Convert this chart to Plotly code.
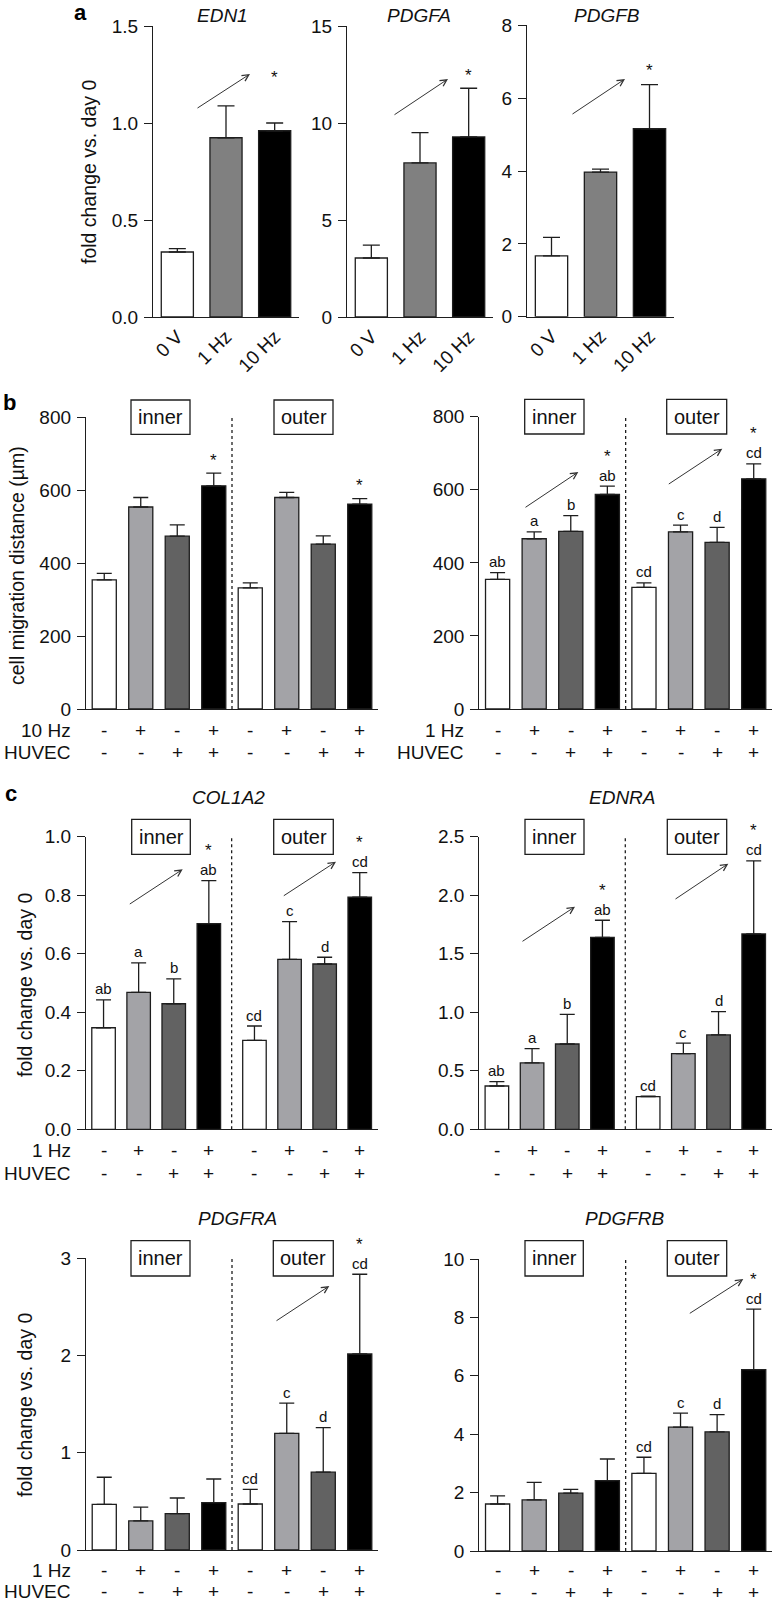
import plotly.graph_objects as go

W, H = 775, 1604
FONT = "Arial, Liberation Sans, sans-serif"
TXT = "#111111"
LINE = "#1e1e1e"

# ---------------- data ----------------
a_groups = ["0 V", "1 Hz", "10 Hz"]
a_colors = ["#ffffff", "#808080", "#000000"]
edn1_mean = [0.335, 0.924, 0.96]
edn1_sem = [0.017, 0.164, 0.04]
pdgfa_mean = [3.04, 7.94, 9.28]
pdgfa_sem = [0.66, 1.56, 2.51]
pdgfb_mean = [1.67, 3.97, 5.16]
pdgfb_sem = [0.51, 0.08, 1.21]

bc_colors = ["#ffffff", "#a3a3a7", "#626262", "#000000"] * 2
stim_row = ["-", "+", "-", "+", "-", "+", "-", "+"]
huvec_row = ["-", "-", "+", "+", "-", "-", "+", "+"]

mig10_mean = [354, 554, 474, 612, 332, 580, 452, 562]
mig10_sem = [18, 26, 31, 35, 14, 14, 23, 15]
mig1_mean = [355, 466, 486, 587, 333, 485, 456, 630]
mig1_sem = [18, 19, 43, 23, 12, 18, 41, 41]

col1a2_mean = [0.347, 0.468, 0.429, 0.703, 0.304, 0.581, 0.565, 0.793]
col1a2_sem = [0.095, 0.101, 0.085, 0.147, 0.049, 0.129, 0.023, 0.084]
ednra_mean = [0.37, 0.567, 0.729, 1.64, 0.279, 0.646, 0.806, 1.669]
ednra_sem = [0.037, 0.122, 0.253, 0.146, 0.004, 0.091, 0.199, 0.624]
pdgfra_mean = [0.47, 0.30, 0.374, 0.487, 0.473, 1.20, 0.80, 2.016]
pdgfra_sem = [0.278, 0.14, 0.161, 0.243, 0.151, 0.31, 0.458, 0.82]
pdgfrb_mean = [1.61, 1.75, 1.98, 2.41, 2.66, 4.24, 4.08, 6.21]
pdgfrb_sem = [0.28, 0.60, 0.13, 0.74, 0.55, 0.48, 0.59, 2.07]

letters_full = ["ab", "a", "b", "ab", "cd", "c", "d", "cd"]
letters_outer = ["", "", "", "", "cd", "c", "d", "cd"]
letters_none = [""] * 8


def fx(px):
    return px / W


def fy(py):
    return 1 - py / H


fig = go.Figure()
annotations = []
shapes = []


def add_axes(idx, xdom, ydom, xrange, yrange, ytickvals, yfmt, xtickvals=None, xticktext=None):
    xa = dict(domain=[fx(xdom[0]), fx(xdom[1])], range=xrange, anchor="y%d" % idx,
              showline=True, linecolor=LINE, linewidth=1.3, ticks="", showgrid=False,
              zeroline=False, automargin=False, fixedrange=True)
    if xtickvals is None:
        xa["showticklabels"] = False
    else:
        xa.update(tickvals=xtickvals, ticktext=xticktext, tickangle=-45,
                  tickfont=dict(family=FONT, size=19, color=TXT))
    ya = dict(domain=[fy(ydom[1]), fy(ydom[0])], range=yrange, anchor="x%d" % idx,
              showline=True, linecolor=LINE, linewidth=1.3, ticks="outside", ticklen=8,
              tickwidth=1.3, tickcolor=LINE, tickvals=ytickvals, tickformat=yfmt,
              ticklabelstandoff=2,
              tickfont=dict(family=FONT, size=19, color=TXT), showgrid=False,
              zeroline=False, automargin=False, fixedrange=True)
    fig.layout["xaxis%d" % idx if idx > 1 else "xaxis"] = xa
    fig.layout["yaxis%d" % idx if idx > 1 else "yaxis"] = ya


def add_bars(idx, pos, mean, sem, colors, bw, capw):
    xr = "x%d" % idx if idx > 1 else "x"
    yr = "y%d" % idx if idx > 1 else "y"
    fig.add_trace(go.Bar(
        x=pos, y=mean, width=bw, xaxis=xr, yaxis=yr,
        marker=dict(color=colors, line=dict(color=LINE, width=1.3)),
        error_y=dict(type="data", symmetric=False, array=sem, arrayminus=[0] * len(sem),
                     color=LINE, thickness=1.3, width=capw),
        showlegend=False, hoverinfo="skip"))
    return xr, yr


def add_letters(xr, yr, pos, mean, sem, letters, stars):
    for i, p in enumerate(pos):
        top = mean[i] + sem[i]
        if letters[i]:
            annotations.append(dict(x=p, y=top, xref=xr, yref=yr, text=letters[i],
                                    showarrow=False, xanchor="center", yanchor="middle", yshift=11,
                                    font=dict(family=FONT, size=15, color=TXT)))
        if i in stars:
            ys = 30 if letters[i] else 13
            annotations.append(dict(x=p, y=top, xref=xr, yref=yr, text="*",
                                    showarrow=False, xanchor="center", yanchor="middle", yshift=ys,
                                    font=dict(family=FONT, size=17, color=TXT)))


def add_rows(xr, pos, y1, y2, lab1=None, lab2=None, labx=None):
    for i, p in enumerate(pos):
        for row, yy in ((stim_row, y1), (huvec_row, y2)):
            annotations.append(dict(x=p, y=fy(yy), xref=xr, yref="paper", text=row[i],
                                    showarrow=False, xanchor="center", yanchor="middle",
                                    font=dict(family=FONT, size=19, color=TXT)))
    if lab1:
        for lab, yy in ((lab1, y1), (lab2, y2)):
            annotations.append(dict(x=fx(labx), y=fy(yy), xref="paper", yref="paper", text=lab,
                                    showarrow=False, xanchor="right", yanchor="middle",
                                    font=dict(family=FONT, size=19, color=TXT)))


def add_box(x0, x1, y0, y1, label):
    shapes.append(dict(type="rect", xref="paper", yref="paper", x0=fx(x0), x1=fx(x1),
                       y0=fy(y1), y1=fy(y0), line=dict(color=LINE, width=1.3),
                       fillcolor="rgba(0,0,0,0)", layer="above"))
    annotations.append(dict(x=fx((x0 + x1) / 2), y=fy((y0 + y1) / 2), xref="paper", yref="paper",
                            text=label, showarrow=False, xanchor="center", yanchor="middle",
                            font=dict(family=FONT, size=20, color=TXT)))


def add_arrow(tail, head):
    annotations.append(dict(x=fx(head[0]), y=fy(head[1]), xref="paper", yref="paper", text="",
                            showarrow=True, arrowhead=5, arrowsize=1.3, arrowwidth=1,
                            arrowcolor="#333333", ax=tail[0] - head[0], ay=tail[1] - head[1]))


def add_title(x, y, text):
    annotations.append(dict(x=fx(x), y=fy(y), xref="paper", yref="paper", text=text,
                            showarrow=False, xanchor="center", yanchor="middle",
                            font=dict(family=FONT, size=19, color=TXT, style="italic")))


def add_ytitle(x, y, text):
    annotations.append(dict(x=fx(x), y=fy(y), xref="paper", yref="paper", text=text,
                            showarrow=False, textangle=-90, xanchor="center", yanchor="middle",
                            font=dict(family=FONT, size=19.5, color=TXT)))


def add_dash(xr, yr, xpos, ytop):
    shapes.append(dict(type="line", xref=xr, yref=yr, x0=xpos, x1=xpos, y0=0, y1=ytop,
                       line=dict(color=LINE, width=1.3, dash="3px,3px")))


# ---------------- panel a ----------------
apos = [0, 1, 2]
a_panels = [
    (1, (153, 299), (26, 317), edn1_mean, edn1_sem, [0, 1.5], [0, 0.5, 1.0, 1.5], ".1f", "EDN1", 222, 1.235,
     (196, 109), (250, 74)),
    (2, (347, 493), (26, 317), pdgfa_mean, pdgfa_sem, [0, 15], [0, 5, 10, 15], "d", "PDGFA", 419, 12.45,
     (393, 115.7), (448, 79)),
    (3, (527, 674), (25.3, 316.7), pdgfb_mean, pdgfb_sem, [0, 8], [0, 2, 4, 6, 8], "d", "PDGFB", 607, 6.75,
     (571, 115), (625, 79)),
]
for (idx, xd, yd, m, s, yrng, tv, fmt, title, tx, stary, tail, head) in a_panels:
    add_axes(idx, xd, yd, [-0.5, 2.5], yrng, tv, fmt, xtickvals=apos, xticktext=a_groups)
    xr, yr = add_bars(idx, apos, m, s, a_colors, 0.66, 8.5)
    add_title(tx, 15, title)
    annotations.append(dict(x=2, y=stary, xref=xr, yref=yr, text="*", showarrow=False,
                            xanchor="center", yanchor="middle",
                            font=dict(family=FONT, size=17, color=TXT)))
    add_arrow(tail, head)
add_ytitle(89, 172, "fold change vs. day 0")

# ---------------- panel b ----------------
upos = [0, 1, 2, 3, 4, 5, 6, 7]
gpos = [0, 1, 2, 3, 4.3, 5.3, 6.3, 7.3]

# b left (10 Hz)
add_axes(4, (86, 378), (417.3, 709), [-0.5, 7.5], [0, 800], [0, 200, 400, 600, 800], "d")
xr, yr = add_bars(4, upos, mig10_mean, mig10_sem, bc_colors, 0.66, 7.5)
add_letters(xr, yr, upos, mig10_mean, mig10_sem, letters_none, [3, 7])
add_dash(xr, yr, 3.5, 800)
add_box(131, 190, 400, 434.3, "inner")
add_box(274, 333, 400, 434.3, "outer")
add_rows(xr, upos, 730, 752.7, "10 Hz", "HUVEC", 73)
add_ytitle(17, 566, "cell migration distance (µm)")

# b right (1 Hz)
add_axes(5, (479.3, 772), (416.7, 709), [-0.5, 7.5], [0, 800], [0, 200, 400, 600, 800], "d")
xr, yr = add_bars(5, upos, mig1_mean, mig1_sem, bc_colors, 0.66, 7.5)
add_letters(xr, yr, upos, mig1_mean, mig1_sem, letters_full, [3, 7])
add_dash(xr, yr, 3.5, 800)
add_box(524.7, 584, 399.3, 434, "inner")
add_box(666.7, 726.7, 399.3, 434, "outer")
add_arrow((524, 508.3), (578.3, 472))
add_arrow((667.3, 485), (722.3, 448.7))
add_rows(xr, upos, 730, 752.7, "1 Hz", "HUVEC", 466)

# ---------------- panel c top ----------------
add_axes(6, (86, 378), (836.7, 1129.3), [-0.5, 7.82], [0, 1.0], [0, 0.2, 0.4, 0.6, 0.8, 1.0], ".1f")
xr, yr = add_bars(6, gpos, col1a2_mean, col1a2_sem, bc_colors, 0.67, 7.5)
add_letters(xr, yr, gpos, col1a2_mean, col1a2_sem, letters_full, [3, 7])
add_dash(xr, yr, 3.65, 1.0)
add_box(131.7, 190.3, 819.3, 854.3, "inner")
add_box(273.7, 333.3, 819.3, 854.3, "outer")
add_arrow((128.3, 905), (182.7, 869.3))
add_arrow((282.3, 896.7), (336, 861.7))
add_rows(xr, gpos, 1150, 1173.3, "1 Hz", "HUVEC", 73)
add_title(228, 797, "COL1A2")
add_ytitle(25, 985, "fold change vs. day 0")

add_axes(7, (479.3, 772), (836.7, 1129.3), [-0.5, 7.82], [0, 2.5], [0, 0.5, 1.0, 1.5, 2.0, 2.5], ".1f")
xr, yr = add_bars(7, gpos, ednra_mean, ednra_sem, bc_colors, 0.67, 7.5)
add_letters(xr, yr, gpos, ednra_mean, ednra_sem, letters_full, [3, 7])
add_dash(xr, yr, 3.65, 2.5)
add_box(525, 584, 819.3, 854.3, "inner")
add_box(667.3, 726.7, 819.3, 854.3, "outer")
add_arrow((521, 942.3), (575, 906.7))
add_arrow((674, 900), (728.3, 863.7))
add_rows(xr, gpos, 1150, 1173.3)
add_title(622, 797, "EDNRA")

# ---------------- panel c bottom ----------------
add_axes(8, (86, 378), (1258.3, 1550), [-0.5, 7.5], [0, 3], [0, 1, 2, 3], "d")
xr, yr = add_bars(8, upos, pdgfra_mean, pdgfra_sem, bc_colors, 0.66, 7.5)
add_letters(xr, yr, upos, pdgfra_mean, pdgfra_sem, letters_outer, [7])
add_dash(xr, yr, 3.5, 3)
add_box(131, 190, 1240.7, 1276, "inner")
add_box(273.3, 333.3, 1240.7, 1276, "outer")
add_arrow((275, 1321.7), (329.3, 1286))
add_rows(xr, upos, 1570, 1591.5, "1 Hz", "HUVEC", 73)
add_title(238, 1218, "PDGFRA")
add_ytitle(25, 1405, "fold change vs. day 0")

add_axes(9, (479.3, 772), (1259, 1551), [-0.5, 7.5], [0, 10], [0, 2, 4, 6, 8, 10], "d")
xr, yr = add_bars(9, upos, pdgfrb_mean, pdgfrb_sem, bc_colors, 0.66, 7.5)
add_letters(xr, yr, upos, pdgfrb_mean, pdgfrb_sem, letters_outer, [7])
add_dash(xr, yr, 3.5, 10)
add_box(525, 583.3, 1240.7, 1276, "inner")
add_box(667.3, 726.7, 1240.7, 1276, "outer")
add_arrow((688.3, 1314.3), (743.3, 1279))
add_rows(xr, upos, 1570.5, 1592)
add_title(625, 1218, "PDGFRB")

# panel letters
for lab, x, y in (("a", 80, 13), ("b", 9, 403), ("c", 11, 793)):
    annotations.append(dict(x=fx(x), y=fy(y), xref="paper", yref="paper", text="<b>%s</b>" % lab,
                            showarrow=False, xanchor="center", yanchor="middle",
                            font=dict(family=FONT, size=22, color="#000000")))

fig.update_layout(width=W, height=H, margin=dict(l=0, r=0, t=0, b=0),
                  paper_bgcolor="white", plot_bgcolor="white",
                  annotations=annotations, shapes=shapes, bargap=0.3)

fig.write_html("out.html", config={"displayModeBar": False},
               post_script="document.body.style.margin='0px';document.body.style.padding='0px';")
